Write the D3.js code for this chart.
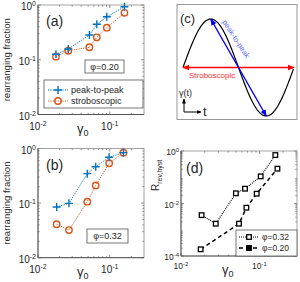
<!DOCTYPE html>
<html>
<head>
<meta charset="utf-8">
<script src="https://cdn.jsdelivr.net/npm/d3@7"></script>
<style>
  body { margin: 0; background: #fff; }
  text { font-family: "Liberation Sans", Arial, sans-serif; fill: #262626; }
</style>
</head>
<body>
<div id="chart"></div>
<script>
// panel (a), phi = 0.20
const gammaA = [0.0178, 0.0264, 0.052, 0.066, 0.091, 0.16];
const peakA = [0.126, 0.157, 0.283, 0.444, 0.61, 0.93];
const stroboA = [0.114, 0.146, 0.169, 0.257, 0.385, 0.72];
// panel (b), phi = 0.32
const gammaB = [0.0182, 0.027, 0.0486, 0.0637, 0.098, 0.155];
const peakB = [0.085, 0.099, 0.346, 0.464, 0.69, 0.84];
const stroboB = [0.041, 0.032, 0.106, 0.211, 0.537, 0.84];
// panel (d)
const gammaD32 = [0.0183, 0.0277, 0.050, 0.0653, 0.1035, 0.159];
const rD32 = [0.0036, 0.0017, 0.0245, 0.0366, 0.108, 0.70];
const gammaD20 = [0.0178, 0.0548, 0.068, 0.092, 0.169];
const rD20 = [0.00018, 0.0017, 0.0069, 0.0236, 0.212];
// tick exponents
const xTickExp = [-2, -1];
const yTickExpAB = [-2, -1, 0];
const yTickExpD = [-4, -2, 0];
const legendAB = ["peak-to-peak", "stroboscopic"];
const legendD = ["φ=0.32", "φ=0.20"];

const blue = "#0072BD", orange = "#D95319";

const svg = d3.select("#chart").append("svg")
  .attr("width", 300).attr("height", 282);

const defs = svg.append("defs");
function arrowMarker(id, color) {
  defs.append("marker").attr("id", id)
    .attr("viewBox", "0 0 10 10").attr("refX", 9).attr("refY", 5)
    .attr("markerWidth", 5).attr("markerHeight", 5)
    .attr("orient", "auto-start-reverse")
    .append("path").attr("d", "M0,1L10,5L0,9z").attr("fill", color);
}
arrowMarker("arrRed", "#ff0000");
arrowMarker("arrBlue", "#0000ff");
arrowMarker("arrBlack", "#000");

// power-of-ten label: "10" + superscript exponent
function powLabel(sel, exp, fs, sfs) {
  sel.append("tspan").text("10").style("font-size", fs + "px");
  sel.append("tspan").text(exp).style("font-size", sfs + "px").attr("dy", -fs * 0.38);
}

function logAxes(o) {
  const x = d3.scaleLog().domain(o.xd).range(o.xr);
  const y = d3.scaleLog().domain(o.yd).range(o.yr);
  const g = svg.append("g");
  const [x0, x1] = o.xr, [y0, y1] = o.yr; // y0 bottom, y1 top
  const col = "#404040";

  function minors(dom) {
    const out = [];
    for (let d = Math.floor(Math.log10(dom[0])); d <= Math.ceil(Math.log10(dom[1])); d++)
      for (let k = 2; k <= 9; k++) {
        const v = k * Math.pow(10, d);
        if (v > dom[0] && v < dom[1]) out.push(v);
      }
    return out;
  }
  const xMaj = o.xExp.map(e => Math.pow(10, e));
  const yMaj = o.yExp.map(e => Math.pow(10, e));
  const tk = g.append("g").attr("stroke", col).attr("stroke-width", 0.6);
  xMaj.forEach(v => {
    tk.append("line").attr("x1", x(v)).attr("x2", x(v)).attr("y1", y0).attr("y2", y0 - 3);
    tk.append("line").attr("x1", x(v)).attr("x2", x(v)).attr("y1", y1).attr("y2", y1 + 3);
  });
  minors(o.xd).forEach(v => {
    tk.append("line").attr("x1", x(v)).attr("x2", x(v)).attr("y1", y0).attr("y2", y0 - 1.6);
    tk.append("line").attr("x1", x(v)).attr("x2", x(v)).attr("y1", y1).attr("y2", y1 + 1.6);
  });
  yMaj.forEach(v => {
    tk.append("line").attr("y1", y(v)).attr("y2", y(v)).attr("x1", x0).attr("x2", x0 + 3);
    tk.append("line").attr("y1", y(v)).attr("y2", y(v)).attr("x1", x1).attr("x2", x1 - 3);
  });
  minors(o.yd).forEach(v => {
    tk.append("line").attr("y1", y(v)).attr("y2", y(v)).attr("x1", x0).attr("x2", x0 + 1.6);
    tk.append("line").attr("y1", y(v)).attr("y2", y(v)).attr("x1", x1).attr("x2", x1 - 1.6);
  });
  g.append("rect").attr("x", x0).attr("y", y1).attr("width", x1 - x0).attr("height", y0 - y1)
    .attr("fill", "none").attr("stroke", "#8c8c8c").attr("stroke-width", 0.8);
  g.append("path").attr("d", `M${x0},${y1}V${y0}H${x1}`)
    .attr("fill", "none").attr("stroke", col).attr("stroke-width", 0.8);

  o.xExp.forEach(e => {
    const t = g.append("text").attr("x", x(Math.pow(10, e))).attr("y", y0 + o.xLabDy)
      .attr("text-anchor", "middle");
    powLabel(t, e, o.fs, o.sfs);
  });
  o.yExp.forEach(e => {
    const t = g.append("text").attr("x", x0 - 2).attr("y", y(Math.pow(10, e)) + o.fs * 0.5)
      .attr("text-anchor", "end");
    powLabel(t, e, o.fs, o.sfs);
  });
  return { x, y, g };
}

function plus(g, cx, cy, color) {
  g.append("path").attr("d", `M${cx - 4},${cy}H${cx + 4}M${cx},${cy - 4}V${cy + 4}`)
    .attr("stroke", color).attr("stroke-width", 1.4);
}
function circ(g, cx, cy, color) {
  g.append("circle").attr("cx", cx).attr("cy", cy).attr("r", 3.2)
    .attr("fill", "none").attr("stroke", color).attr("stroke-width", 1.4);
}

function fractionPanel(yr, gam, peak, strobo, tag, phi, phiBox, legend) {
  const ax = logAxes({ xd: [0.01, 0.3], xr: [38, 144], yd: [0.01, 1], yr: yr,
    xExp: xTickExp, yExp: yTickExpAB, fs: 10, sfs: 7, xLabDy: 15 });
  const { x, y, g } = ax;
  const line = d3.line().x(d => x(d[0])).y(d => y(d[1]));
  const sS = gam.map((v, i) => [v, strobo[i]]);
  const sP = gam.map((v, i) => [v, peak[i]]);
  g.append("path").attr("d", line(sS)).attr("fill", "none").attr("stroke", orange)
    .attr("stroke-width", 1).attr("stroke-dasharray", "1.2,1.2");
  g.append("path").attr("d", line(sP)).attr("fill", "none").attr("stroke", blue)
    .attr("stroke-width", 1).attr("stroke-dasharray", "1.2,1.2");
  sS.forEach(d => circ(g, x(d[0]), y(d[1]), orange));
  sP.forEach(d => plus(g, x(d[0]), y(d[1]), blue));

  g.append("text").attr("x", 46).attr("y", yr[1] + 21).style("font-size", "14px").text(tag);
  // phi box
  g.append("rect").attr("x", phiBox[0]).attr("y", phiBox[1]).attr("width", phiBox[2]).attr("height", phiBox[3])
    .attr("fill", "#fff").attr("stroke", "#555").attr("stroke-width", 0.8);
  g.append("text").attr("x", phiBox[0] + phiBox[2] / 2).attr("y", phiBox[1] + phiBox[3] / 2 + 3.3)
    .attr("text-anchor", "middle").style("font-size", "9px").text(phi);

  // y label
  g.append("text").attr("transform", `translate(10,${(yr[0] + yr[1]) / 2}) rotate(-90)`)
    .attr("text-anchor", "middle").style("font-size", "9.6px").text("rearranging fraction");
  // x label
  const xl = g.append("text").attr("x", 77).attr("y", yr[0] + 18).style("font-size", "13px");
  xl.append("tspan").text("γ");
  xl.append("tspan").text("0").style("font-size", "9px").attr("dy", 3);

  if (legend) {
    g.append("rect").attr("x", 44).attr("y", 80).attr("width", 99).attr("height", 28)
      .attr("fill", "#fff").attr("stroke", "#555").attr("stroke-width", 0.8);
    const cols = [blue, orange];
    legendAB.forEach((name, i) => {
      const ly = 90 + i * 11;
      g.append("line").attr("x1", 48).attr("x2", 68).attr("y1", ly).attr("y2", ly)
        .attr("stroke", cols[i]).attr("stroke-width", 1).attr("stroke-dasharray", "1.2,1.2");
      if (i === 0) plus(g, 58, ly, blue); else circ(g, 58, ly, orange);
      g.append("text").attr("x", 71).attr("y", ly + 3.3).style("font-size", "9px").text(name);
    });
  }
}

fractionPanel([114.5, 5], gammaA, peakA, stroboA, "(a)", "φ=0.20", [85, 60, 39, 13], true);
fractionPanel([257.7, 148.5], gammaB, peakB, stroboB, "(b)", "φ=0.32", [87, 229, 41, 14], false);

// panel (d)
(function () {
  const { x, y, g } = logAxes({ xd: [0.01, 0.3], xr: [181, 297], yd: [1e-4, 1], yr: [256, 151],
    xExp: xTickExp, yExp: yTickExpD, fs: 8.5, sfs: 6, xLabDy: 13 });
  const line = d3.line().x(d => x(d[0])).y(d => y(d[1]));
  const s32 = gammaD32.map((v, i) => [v, rD32[i]]);
  const s20 = gammaD20.map((v, i) => [v, rD20[i]]);
  g.append("path").attr("d", line(s32)).attr("fill", "none").attr("stroke", "#000")
    .attr("stroke-width", 1.1).attr("stroke-dasharray", "1,1");
  g.append("path").attr("d", line(s20)).attr("fill", "none").attr("stroke", "#000")
    .attr("stroke-width", 1.5).attr("stroke-dasharray", "4,3");
  function sq(cx, cy, fill) {
    g.append("rect").attr("x", cx - 2.3).attr("y", cy - 2.3).attr("width", 4.6).attr("height", 4.6)
      .attr("fill", fill).attr("stroke", "#000").attr("stroke-width", 1.3);
  }
  s32.forEach(d => sq(x(d[0]), y(d[1]), "#fff"));
  s20.forEach(d => sq(x(d[0]), y(d[1]), "#fff"));

  g.append("text").attr("x", 186).attr("y", 173).style("font-size", "14px").text("(d)");
  const xl = g.append("text").attr("x", 222).attr("y", 274).style("font-size", "13px");
  xl.append("tspan").text("γ");
  xl.append("tspan").text("0").style("font-size", "9px").attr("dy", 3);
  const yl = g.append("text").attr("transform", "translate(159,191) rotate(-90)").style("font-size", "10px");
  yl.append("tspan").text("R");
  yl.append("tspan").text("rev,hyst").style("font-size", "7px").attr("dy", 2.5);

  // legend
  g.append("rect").attr("x", 236).attr("y", 230).attr("width", 61).attr("height", 26)
    .attr("fill", "#fff").attr("stroke", "#555").attr("stroke-width", 0.8);
  legendD.forEach((name, i) => {
    const ly = 237 + i * 11;
    g.append("line").attr("x1", 239).attr("x2", 259).attr("y1", ly).attr("y2", ly)
      .attr("stroke", "#000").attr("stroke-width", i ? 1.5 : 1.1)
      .attr("stroke-dasharray", i ? "4,3" : "1,1");
    sq(249, ly, i ? "#000" : "#fff");
    g.append("text").attr("x", 262).attr("y", ly + 3).style("font-size", "8.5px").text(name);
  });
})();

// panel (c): schematic of shear cycle
(function () {
  const g = svg.append("g");
  g.append("rect").attr("x", 177).attr("y", 4.5).attr("width", 120).attr("height", 115)
    .attr("fill", "none").attr("stroke", "#8c8c8c").attr("stroke-width", 0.9);
  const tx = d3.scaleLinear().domain([0, 2 * Math.PI]).range([183, 294]);
  const ty = d3.scaleLinear().domain([-1, 1]).range([116, 19]);
  const phase = d3.range(0, 2 * Math.PI + 0.01, 0.05);
  g.append("path").attr("d", d3.line().x(t => tx(t)).y(t => ty(Math.sin(t)))(phase))
    .attr("fill", "none").attr("stroke", "#000").attr("stroke-width", 1.2);
  // stroboscopic arrow
  g.append("line").attr("x1", tx(0)).attr("x2", tx(2 * Math.PI)).attr("y1", ty(0)).attr("y2", ty(0))
    .attr("stroke", "#ff0000").attr("stroke-width", 1.4)
    .attr("marker-start", "url(#arrRed)").attr("marker-end", "url(#arrRed)");
  // peak-to-peak arrow
  g.append("line").attr("x1", tx(Math.PI / 2)).attr("y1", ty(1)).attr("x2", tx(1.5 * Math.PI)).attr("y2", ty(-1))
    .attr("stroke", "#0000ff").attr("stroke-width", 1.4)
    .attr("marker-start", "url(#arrBlue)").attr("marker-end", "url(#arrBlue)");
  g.append("text").attr("transform", "translate(222,22) rotate(57)")
    .style("font-size", "7.5px").style("fill", "#6070ff").text("peak-to-peak");
  g.append("text").attr("x", 189).attr("y", 77.5)
    .style("font-size", "8px").style("fill", "#ff3030").text("Stroboscopic");
  g.append("text").attr("x", 180).attr("y", 23).style("font-size", "13px").text("(c)");
  g.append("text").attr("x", 179).attr("y", 96).style("font-size", "9px").text("γ(t)");
  g.append("line").attr("x1", 184).attr("y1", 112).attr("x2", 184).attr("y2", 99)
    .attr("stroke", "#000").attr("stroke-width", 1).attr("marker-end", "url(#arrBlack)");
  g.append("line").attr("x1", 184).attr("y1", 112).attr("x2", 201).attr("y2", 112)
    .attr("stroke", "#000").attr("stroke-width", 1).attr("marker-end", "url(#arrBlack)");
  g.append("text").attr("x", 203).attr("y", 116).style("font-size", "13px").text("t");
})();
</script>
</body>
</html>
